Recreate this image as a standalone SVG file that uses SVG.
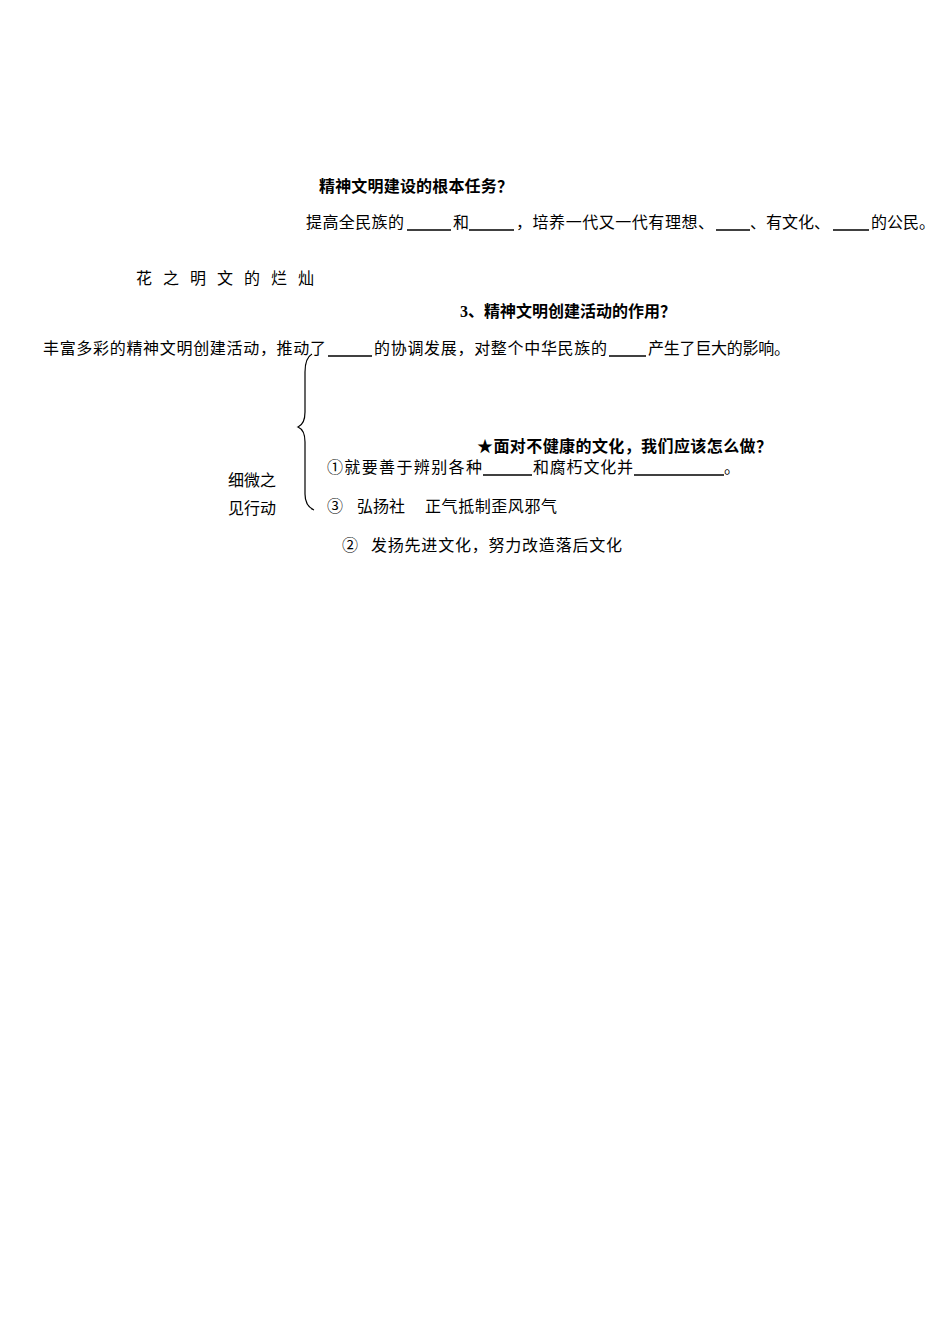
<svg xmlns="http://www.w3.org/2000/svg" width="950" height="1344" viewBox="0 0 950 1344">
<style>
text{font-family:"Liberation Serif","Noto Sans CJK SC",serif;font-size:16px;fill:#000}
.b{font-weight:bold}
.u{stroke:#000;stroke-width:1.3}
</style>
<rect width="950" height="1344" fill="#fff"/>
<g id="title1"><text class="b" x="319" y="192" textLength="194">精神文明建设的根本任务？</text></g>
<g id="line1"><text x="306" y="228" textLength="98">提高全民族的</text><text x="453" y="228">和</text><text x="516" y="228" textLength="198">，培养一代又一代有理想、</text><text x="750" y="228">、有文化、</text><text x="871" y="228">的公民。</text>
<line class="u" x1="407" y1="230" x2="451" y2="230"/><line class="u" x1="469" y1="230" x2="514" y2="230"/><line class="u" x1="716" y1="230" x2="750" y2="230"/><line class="u" x1="833" y1="230" x2="869" y2="230"/></g>
<g id="flower"><text x="136" y="284" letter-spacing="11">花之明文的烂灿</text></g>
<g id="title3"><text class="b" x="460" y="317">3、精神文明创建活动的作用？</text></g>
<g id="line3"><text x="43" y="354" textLength="283">丰富多彩的精神文明创建活动，推动了</text><text x="374" y="354" textLength="233">的协调发展，对整个中华民族的</text><text x="648" y="354" textLength="142">产生了巨大的影响。</text>
<line class="u" x1="328" y1="356" x2="372" y2="356"/><line class="u" x1="609" y1="356" x2="646" y2="356"/></g>
<g id="brace"><path d="M312,354 Q305,358 305,372 L305,412 Q305,424 298,427 Q305,430 305,442 L305,494 Q305,506 314,510" fill="none" stroke="#000" stroke-width="1.2"/></g>
<g id="title4"><text class="b" x="477" y="452" textLength="295">★面对不健康的文化，我们应该怎么做？</text></g>
<g id="item1"><text x="327" y="473" textLength="155">①就要善于辨别各种</text><text x="533" y="473" textLength="100">和腐朽文化并</text><text x="724" y="473">。</text>
<line class="u" x1="483" y1="475" x2="532" y2="475"/><line class="u" x1="634" y1="475" x2="724" y2="475"/></g>
<g id="side"><text x="228" y="486">细微之</text><text x="228" y="514">见行动</text></g>
<g id="item3"><text x="327" y="512">③</text><text x="357" y="512">弘扬社</text><text x="425" y="512" textLength="132">正气抵制歪风邪气</text></g>
<g id="item2"><text x="342" y="551">②</text><text x="371" y="551" textLength="251">发扬先进文化，努力改造落后文化</text></g>
</svg>
